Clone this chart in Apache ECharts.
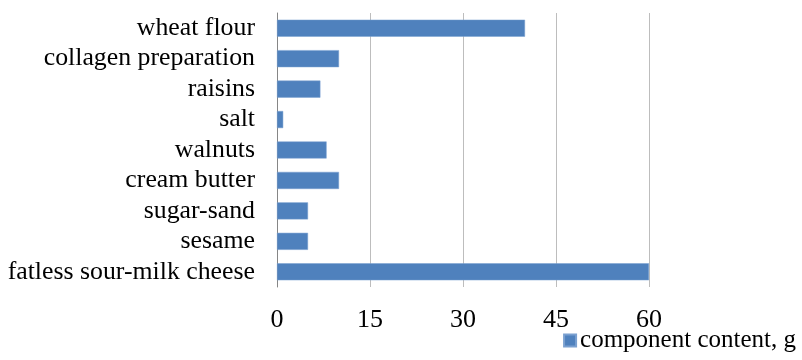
<!DOCTYPE html>
<html><head><meta charset="utf-8">
<script src="https://cdn.jsdelivr.net/npm/echarts@6/dist/echarts.min.js"></script>
<style>html,body{margin:0;padding:0;background:#fff}#c{width:802px;height:360px}</style>
</head><body><div id="c"></div>
<script>
var categories = ["wheat flour","collagen preparation","raisins","salt","walnuts","cream butter","sugar-sand","sesame","fatless sour-milk cheese"];
var values = [40,10,7,1,8,10,5,5,60];
var seriesName = "component content, g";
var xTicks = [0,15,30,45,60];

var chart = echarts.init(document.getElementById('c'), null, {renderer:'canvas'});
var font = "'Liberation Serif','Times New Roman',serif";
chart.setOption({
  animation:false,
  textStyle:{fontFamily:font},
  grid:{left:277,right:153,top:13,bottom:73,containLabel:false},
  legend:{
    data:[seriesName], right:1, bottom:2, itemWidth:12, itemHeight:12, itemGap:6,
    icon:'rect',
    textStyle:{fontFamily:font,fontSize:25,color:'#000',padding:[0,0,0,-1]}
  },
  xAxis:{
    type:'value', min:0, max:60, interval:15,
    axisLine:{show:false}, axisTick:{show:false},
    splitLine:{show:true,lineStyle:{color:'#bdbdbd',width:1}},
    axisLabel:{fontFamily:font,fontSize:26,color:'#000',margin:20,
      formatter:function(v){return xTicks.indexOf(v)>=0?String(v):'';}}
  },
  yAxis:{
    type:'category', data:categories, inverse:true,
    axisLine:{show:true,lineStyle:{color:'#868686',width:1}},
    axisTick:{show:false},
    axisLabel:{fontFamily:font,fontSize:25.8,color:'#000',margin:22,interval:0}
  },
  series:[{
    name:seriesName, type:'bar', data:values,
    barCategoryGap:'44%',
    itemStyle:{color:'#4F81BD',borderColor:'#7aa0d0',borderWidth:0.5}
  }]
});
</script></body></html>
